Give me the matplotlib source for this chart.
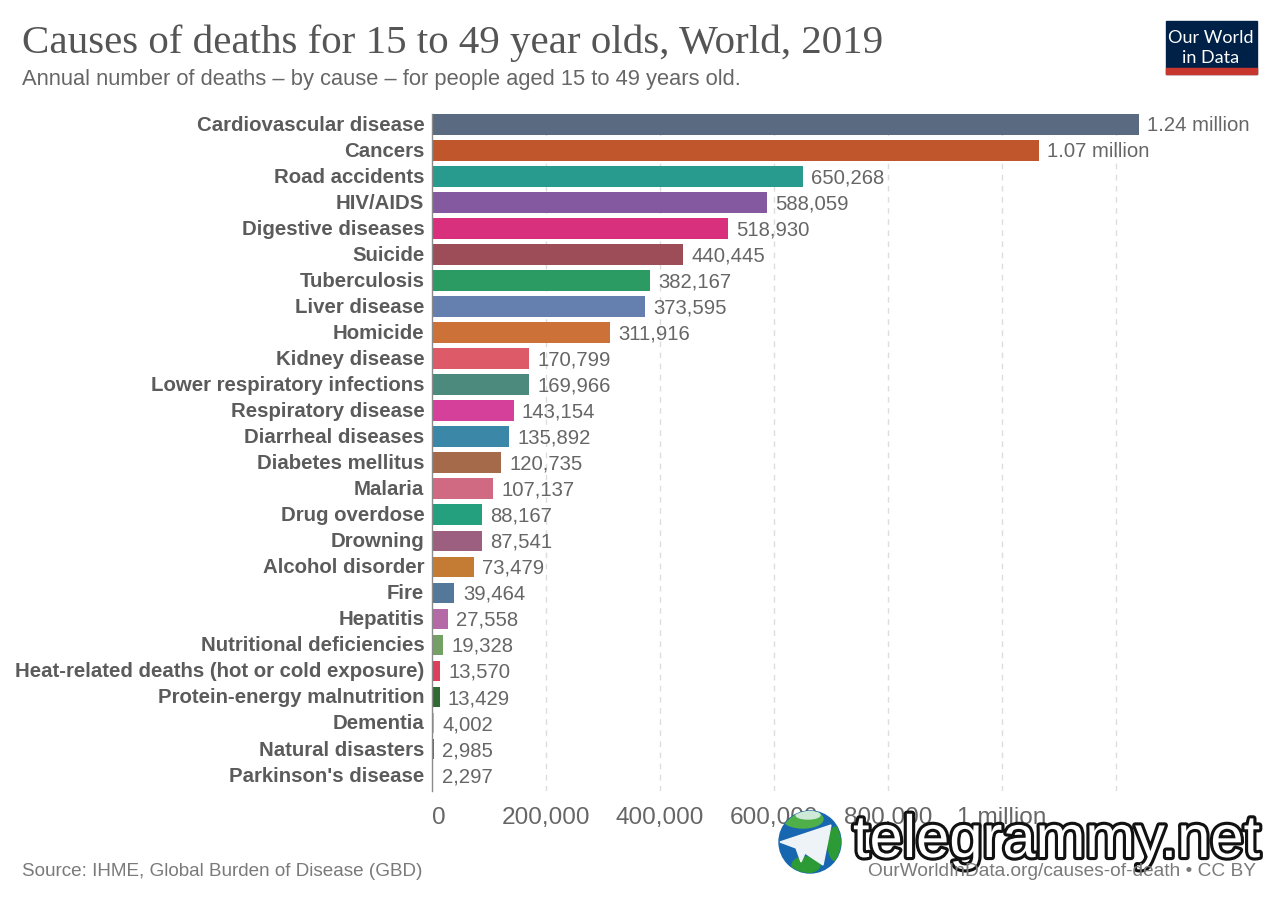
import matplotlib
matplotlib.use('Agg')
import matplotlib.pyplot as plt
import matplotlib.patheffects as pe
from matplotlib.patches import Circle, Ellipse, Polygon, Rectangle
from matplotlib.transforms import ScaledTranslation

causes = ['Cardiovascular disease', 'Cancers', 'Road accidents', 'HIV/AIDS', 'Digestive diseases',
          'Suicide', 'Tuberculosis', 'Liver disease', 'Homicide', 'Kidney disease',
          'Lower respiratory infections', 'Respiratory disease', 'Diarrheal diseases',
          'Diabetes mellitus', 'Malaria', 'Drug overdose', 'Drowning', 'Alcohol disorder', 'Fire',
          'Hepatitis', 'Nutritional deficiencies', 'Heat-related deaths (hot or cold exposure)',
          'Protein-energy malnutrition', 'Dementia', 'Natural disasters', "Parkinson's disease"]
deaths = [1240000, 1065000, 650268, 588059, 518930, 440445, 382167, 373595, 311916, 170799,
          169966, 143154, 135892, 120735, 107137, 88167, 87541, 73479, 39464, 27558, 19328,
          13570, 13429, 4002, 2985, 2297]
value_labels = ['1.24 million', '1.07 million', '650,268', '588,059', '518,930', '440,445',
                '382,167', '373,595', '311,916', '170,799', '169,966', '143,154', '135,892',
                '120,735', '107,137', '88,167', '87,541', '73,479', '39,464', '27,558', '19,328',
                '13,570', '13,429', '4,002', '2,985', '2,297']
colors = ['#5a6a80', '#c0562c', '#289b8e', '#8459a0', '#d9307e', '#9c4d57', '#2b9a63', '#6580ae',
          '#cc7238', '#dd5a68', '#4d8a7e', '#d5409b', '#3a87a8', '#a56a4a', '#cf6a82', '#25a07e',
          '#9c5f7f', '#c47c35', '#54789a', '#b36aa6', '#74a066', '#dc3e5c', '#2e6a32', '#d9b07a',
          '#5a6a80', '#4f5f7f']
x_ticks = [0, 200000, 400000, 600000, 800000, 1000000]
x_ticklabels = ['0', '200,000', '400,000', '600,000', '800,000', '1 million']
grid_lines = [200000, 400000, 600000, 800000, 1000000, 1200000]

W, H = 1280, 903
plt.rcParams['font.family'] = ['Liberation Sans', 'DejaVu Sans']
fig = plt.figure(figsize=(W / 100, H / 100), dpi=100)
grey = '#5b5b5b'

def px_text(x, y, s, **kw):
    # place text using pixel coords measured from the top left
    return fig.text(x / W, 1 - y / H, s, **kw)

# axes: x=0 at 432 px, 114 px per 200k, rows 26.02 px apart
left, right, top, bottom = 432, 1280, 115, 792
ax = fig.add_axes([left / W, 1 - bottom / H, (right - left) / W, (bottom - top) / H])
ax.set_xlim(0, (right - left) / 114 * 200000)
ax.set_ylim(25.61, -0.40)
ax.patch.set_alpha(0)
for s in ax.spines.values():
    s.set_visible(False)
ax.spines['left'].set_visible(True)
ax.spines['left'].set_color('#8a8a8a')
ax.spines['left'].set_linewidth(1)

for g in grid_lines:
    ax.axvline(g, color='#dddddd', lw=1, ls=(0, (4, 4)), zorder=0)
ypos = list(range(len(causes)))
ax.barh(ypos, deaths, height=0.795, color=colors, zorder=2)
for y, d, lab in zip(ypos, deaths, value_labels):
    ax.annotate(lab, (d, y), xytext=(6, 1.1), textcoords='offset points', va='center_baseline',
                ha='left', fontsize=14.6, color='#666666', zorder=3)

ax.set_yticks(ypos)
ax.set_yticklabels(causes, fontsize=14.65, fontweight='bold', color=grey)
ax.set_xticks(x_ticks)
ax.set_xticklabels(x_ticklabels, fontsize=17.6, color='#666666')
ax.tick_params(axis='y', length=0, pad=5.5)
ax.tick_params(axis='x', length=0, pad=11)
ax.get_xticklabels()[0].set_horizontalalignment('left')
for lab in ax.get_yticklabels():
    # labels sit a little above the bar centres
    lab.set_transform(lab.get_transform() + ScaledTranslation(0, 1.5 / 72, fig.dpi_scale_trans))

px_text(22, 53, 'Causes of deaths for 15 to 49 year olds, World, 2019', fontsize=29.5,
        family=['Liberation Serif'], color='#555555')
px_text(22, 85, 'Annual number of deaths – by cause – for people aged 15 to 49 years old.',
        fontsize=15.75, color='#666666')
px_text(22, 876, 'Source: IHME, Global Burden of Disease (GBD)', fontsize=13.55, color='#7a7a7a')
px_text(1256, 876, 'OurWorldInData.org/causes-of-death • CC BY', fontsize=13.75, color='#7a7a7a', ha='right')

# logo
fig.add_artist(Rectangle((1165.5 / W, 1 - 75 / H), 91.5 / W, 53 / H, transform=fig.transFigure, color='#002147'))
fig.add_artist(Rectangle((1165.5 / W, 1 - 75 / H), 91.5 / W, 6 / H, transform=fig.transFigure, color='#c8372d'))
px_text(1211, 43, 'Our World', fontsize=13, color='white', ha='center', family=['Lato'])
px_text(1211, 63, 'in Data', fontsize=13, color='white', ha='center', family=['Lato'])

# watermark
overlay = fig.add_axes([0, 0, 1, 1])
overlay.set_xlim(0, W)
overlay.set_ylim(H, 0)
overlay.axis('off')
globe = Circle((810, 843), 31, color='#1767b0', zorder=5)
overlay.add_patch(globe)
for (cx, cy, ew, eh, c) in [(836, 845, 16, 34, '#2c9a35'), (806, 866, 28, 16, '#2c9a35'),
                            (803, 820, 40, 18, '#4fb04a'), (808, 816, 24, 8, '#cfe9d8')]:
    patch = Ellipse((cx, cy), ew, eh, color=c, zorder=5)
    overlay.add_patch(patch)
    patch.set_clip_path(globe)
overlay.add_patch(Polygon([[780, 843], [831, 826], [823, 866], [805, 854], [801, 863], [796, 849]],
                          closed=True, color='#eef3f7', zorder=6))
overlay.text(853, 858, 'telegrammy.net', fontsize=43, color='white', ha='left', va='baseline',
             zorder=7, path_effects=[pe.withStroke(linewidth=4.5, foreground='#111111')])

fig.savefig('out.png', dpi=100)
